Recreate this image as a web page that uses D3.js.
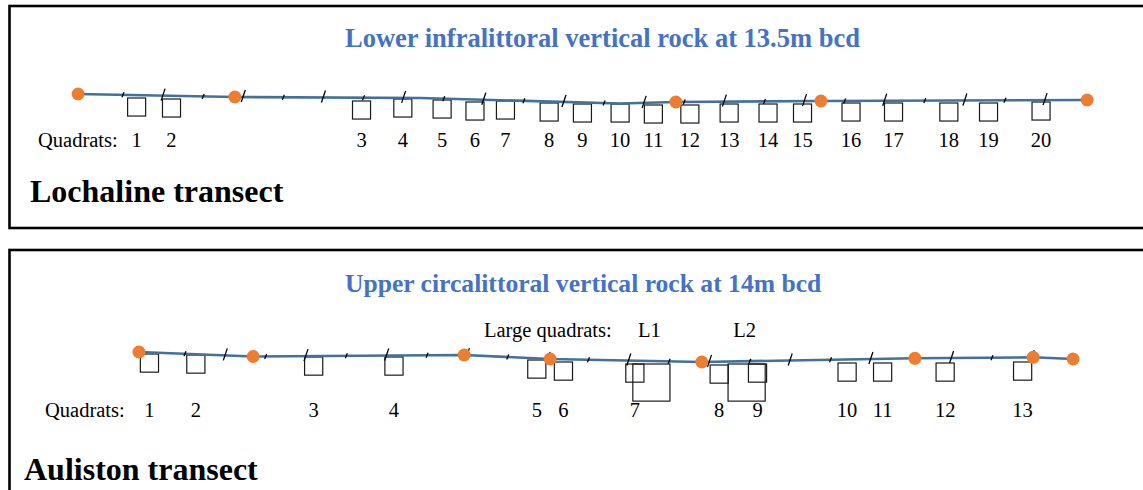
<!DOCTYPE html>
<html>
<head>
<meta charset="utf-8">
<script src="https://cdn.jsdelivr.net/npm/d3@7"></script>
<style>
  html, body { margin: 0; padding: 0; background: #fff; }
  svg { display: block; }
  text { font-family: "Liberation Serif", "Times New Roman", serif; }
</style>
</head>
<body>
<svg id="chart" width="1143" height="490"></svg>
<script>
// ---------------- DATA (distance along transect in metres, relative depth offset in cm) ----------------
// Lochaline transect
const topTitle = "Lower infralittoral vertical rock at 13.5m bcd";
const topName = "Lochaline transect";
const topProfileDist = [-0.12, 3.79, 8.41, 13.4, 14.79, 18.41, 25.05];
const topProfileDepth = [1, 4, 5, 10.5, 9, 8, 7];
const topStations = [-0.12, 3.79, 14.79, 18.41, 25.05];
const topTicks = [1,2,3,4,5,6,7,8,9,10,11,12,13,14,15,16,17,18,19,20,21,22,23,24];
const topQuadratLabels = ["1","2","3","4","5","6","7","8","9","10","11","12","13","14","15","16","17","18","19","20"];
const topQuadratDist = [1.34, 2.21, 6.95, 7.98, 8.96, 9.78, 10.54, 11.63, 12.46, 13.40, 14.23, 15.14, 16.12, 17.09, 17.95, 19.16, 20.22, 21.60, 22.59, 23.90];
const topQuadratDepth = [5, 6, 8, 6, 7, 9, 8, 10, 11, 11, 12, 12, 11, 11, 11, 10, 10, 10, 10, 9];

// Auliston transect
const botTitle = "Upper circalittoral vertical rock at 14m bcd";
const botName = "Auliston transect";
const botProfileDist = [-0.14, 2.69, 7.92, 10.05, 13.81, 19.09, 22.02, 23.01];
const botProfileDepth = [2, 6.5, 5, 9, 12, 8.3, 7.3, 9];
const botStations = [-0.14, 2.69, 7.92, 10.05, 13.81, 19.09, 22.02, 23.01];
const botTicks = [1,2,3,4,5,6,7,8,9,10,11,12,13,14,15,16,17,18,19,20,21,22];
const botQuadratLabels = ["1","2","3","4","5","6","7","8","9","10","11","12","13"];
const botQuadratDist = [0.12, 1.27, 4.19, 6.18, 9.72, 10.38, 12.15, 14.24, 15.19, 17.41, 18.29, 19.84, 21.76];
const botQuadratDepth = [4, 5, 7, 7, 10, 12, 14, 15, 14, 13, 13, 13, 12];
const botLargeLabels = ["L1", "L2"];
const botLargeDist = [12.56, 14.92];
const botLargeDepth = [14, 14];

// quadrat side lengths (m)
const smallSide = 0.45;
const largeSide = 0.92;

// ---------------- DRAWING ----------------
const svg = d3.select("#chart");
const lineColor = "#41719C";
const dotColor = "#ED7D31";
const titleColor = "#4472C4";

function panel(cfg) {
  const g = svg.append("g");
  // frame
  g.append("rect")
    .attr("x", cfg.box[0]).attr("y", cfg.box[1])
    .attr("width", cfg.box[2]).attr("height", cfg.box[3])
    .attr("fill", "none").attr("stroke", "#000").attr("stroke-width", 2.6);

  const x = d3.scaleLinear().domain([0, 1]).range([cfg.x0, cfg.x0 + cfg.pxPerM]);
  const y = d3.scaleLinear().domain([0, 20]).range([cfg.yBase, cfg.yBase + 20]);
  const side = s => x(s) - x(0);
  const prof = d3.scaleLinear().domain(cfg.profDist).range(cfg.profDepth);

  // title
  g.append("text").attr("x", 345).attr("y", cfg.titleY)
    .attr("font-size", cfg.titleSize).attr("font-weight", "bold").attr("fill", titleColor)
    .text(cfg.title);

  // quadrats (small)
  g.selectAll("rect.q").data(cfg.qDist).join("rect")
    .attr("class", "q")
    .attr("x", d => x(d) - side(smallSide) / 2)
    .attr("y", (d, i) => y(cfg.qDepth[i]))
    .attr("width", side(smallSide)).attr("height", side(smallSide))
    .attr("fill", "none").attr("stroke", "#1a1a1a").attr("stroke-width", 1.2);

  // large quadrats
  if (cfg.lDist) {
    g.selectAll("rect.l").data(cfg.lDist).join("rect")
      .attr("class", "l")
      .attr("x", d => x(d) - side(largeSide) / 2)
      .attr("y", (d, i) => y(cfg.lDepth[i]))
      .attr("width", side(largeSide)).attr("height", side(largeSide))
      .attr("fill", "none").attr("stroke", "#1a1a1a").attr("stroke-width", 1.2);
  }

  // transect line
  const pts = cfg.profDist.map((d, i) => [x(d), y(cfg.profDepth[i])]);
  g.append("path").attr("d", d3.line()(pts))
    .attr("fill", "none").attr("stroke", lineColor).attr("stroke-width", 2.6);

  // metre ticks (slanted), alternate short/long
  g.selectAll("line.t").data(cfg.ticks).join("line")
    .attr("class", "t")
    .attr("x1", d => x(d) - (d % 2 === 0 ? 2 : 1))
    .attr("y1", d => y(prof(d)) + (d % 2 === 0 ? 5 : 2.5))
    .attr("x2", d => x(d) + (d % 2 === 0 ? 2 : 1))
    .attr("y2", d => y(prof(d)) - (d % 2 === 0 ? 7 : 2.5))
    .attr("stroke", "#000").attr("stroke-width", 1.3);

  // stations
  g.selectAll("circle").data(cfg.stations).join("circle")
    .attr("cx", d => x(d)).attr("cy", d => y(prof(d))).attr("r", 6.5)
    .attr("fill", dotColor);

  // labels
  g.append("text").attr("x", cfg.qLabelX).attr("y", cfg.labelY)
    .attr("font-size", 20.5).text("Quadrats:");
  g.selectAll("text.n").data(cfg.qLabels).join("text")
    .attr("class", "n")
    .attr("x", (d, i) => x(cfg.qDist[i])).attr("y", cfg.labelY)
    .attr("text-anchor", "middle").attr("font-size", 20.5).text(d => d);

  if (cfg.lDist) {
    g.append("text").attr("x", 484).attr("y", cfg.lLabelY)
      .attr("font-size", 20.5).text("Large quadrats:");
    g.selectAll("text.ln").data(cfg.lLabels).join("text")
      .attr("class", "ln")
      .attr("x", (d, i) => x(cfg.lDist[i]) - 2).attr("y", cfg.lLabelY)
      .attr("text-anchor", "middle").attr("font-size", 20.5).text(d => d);
  }

  // transect name
  g.append("text").attr("x", cfg.nameX).attr("y", cfg.nameY)
    .attr("font-size", 32).attr("font-weight", "bold").attr("fill", "#000")
    .text(cfg.name);
}

panel({
  box: [9.5, 6, 1200, 222],
  x0: 82.9, pxPerM: 40.09, yBase: 93,
  title: topTitle, titleY: 47, titleSize: 26.5,
  profDist: topProfileDist, profDepth: topProfileDepth,
  stations: topStations, ticks: topTicks,
  qDist: topQuadratDist, qDepth: topQuadratDepth, qLabels: topQuadratLabels,
  qLabelX: 38, labelY: 147,
  name: topName, nameX: 30, nameY: 202
});

panel({
  box: [9.5, 250, 1200, 300],
  x0: 144.6, pxPerM: 40.35, yBase: 350,
  title: botTitle, titleY: 292, titleSize: 25.6,
  profDist: botProfileDist, profDepth: botProfileDepth,
  stations: botStations, ticks: botTicks,
  qDist: botQuadratDist, qDepth: botQuadratDepth, qLabels: botQuadratLabels,
  lDist: botLargeDist, lDepth: botLargeDepth, lLabels: botLargeLabels, lLabelY: 337,
  qLabelX: 45, labelY: 417,
  name: botName, nameX: 24, nameY: 480
});
</script>
</body>
</html>
